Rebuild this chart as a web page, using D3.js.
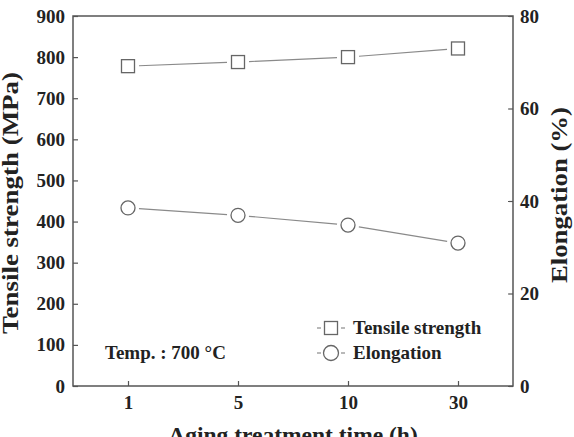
<!DOCTYPE html>
<html>
<head>
<meta charset="utf-8">
<script src="https://cdn.jsdelivr.net/npm/d3@7"></script>
<style>
  body { margin: 0; background: #fff; }
  text { font-family: "Liberation Serif", "Times New Roman", serif; font-weight: bold; fill: #222; }
</style>
</head>
<body>
<div id="chart"></div>
<script>
// Values
var times = ["1", "5", "10", "30"];
var tensile = [778, 788, 800, 821];
var elongation = [38.5, 36.9, 34.8, 30.9];
var leftTicks = [0, 100, 200, 300, 400, 500, 600, 700, 800, 900];
var rightTicks = [0, 20, 40, 60, 80];

var W = 574, H = 437;
var box = {left: 73, right: 513, top: 16, bottom: 386};
var axisColor = "#555", lineColor = "#8a8a8a", markColor = "#666";

var svg = d3.select("#chart").append("svg")
    .attr("width", W)
    .attr("height", H);

var x = d3.scalePoint().domain(times).range([box.left, box.right]).padding(0.5);
var yL = d3.scaleLinear().domain([0, 900]).range([box.bottom, box.top]);
var yR = d3.scaleLinear().domain([0, 80]).range([box.bottom, box.top]);

// frame
svg.append("rect")
    .attr("x", box.left).attr("y", box.top)
    .attr("width", box.right - box.left).attr("height", box.bottom - box.top)
    .attr("fill", "none").attr("stroke", axisColor).attr("stroke-width", 1.5);

// axes, ticks point inward
function styleAxis(g) {
    g.select(".domain").remove();
    g.selectAll(".tick line").attr("stroke", axisColor).attr("stroke-width", 1.2);
    g.selectAll(".tick text").attr("font-size", "19px").attr("fill", "#222")
	.attr("font-family", null);
}

svg.append("g")
    .attr("transform", "translate(" + box.left + ",0)")
    .call(d3.axisLeft(yL).tickValues(leftTicks).tickSizeInner(-5).tickSizeOuter(0).tickPadding(8))
    .call(styleAxis);

svg.append("g")
    .attr("transform", "translate(" + box.right + ",0)")
    .call(d3.axisRight(yR).tickValues(rightTicks).tickSizeInner(-5).tickSizeOuter(0).tickPadding(7))
    .call(styleAxis);

svg.append("g")
    .attr("transform", "translate(0," + box.bottom + ")")
    .call(d3.axisBottom(x).tickSizeInner(-5).tickSizeOuter(0).tickPadding(10))
    .call(styleAxis);

// axis titles
svg.append("text")
    .attr("transform", "translate(18,203) rotate(-90)")
    .attr("text-anchor", "middle")
    .attr("font-size", "23px")
    .attr("textLength", 262).attr("lengthAdjust", "spacingAndGlyphs")
    .text("Tensile strength (MPa)");

svg.append("text")
    .attr("transform", "translate(567,195) rotate(-90)")
    .attr("text-anchor", "middle")
    .attr("font-size", "23px")
    .attr("textLength", 176).attr("lengthAdjust", "spacingAndGlyphs")
    .text("Elongation (%)");

svg.append("text")
    .attr("x", (box.left + box.right) / 2)
    .attr("y", 443)
    .attr("text-anchor", "middle")
    .attr("font-size", "23.5px")
    .text("Aging treatment time (h)");

// series: lines stop short of the markers
function segments(vals, y, gap) {
    var segs = [];
    for (var i = 0; i < vals.length - 1; i++) {
	var x1 = x(times[i]), y1 = y(vals[i]), x2 = x(times[i+1]), y2 = y(vals[i+1]);
	var len = Math.hypot(x2 - x1, y2 - y1), ux = (x2 - x1) / len, uy = (y2 - y1) / len;
	segs.push({x1: x1 + ux*gap, y1: y1 + uy*gap, x2: x2 - ux*gap, y2: y2 - uy*gap});
    }
    return segs;
}

function drawSegs(segs) {
    svg.append("g").selectAll("line")
	.data(segs)
	.enter().append("line")
	.attr("x1", function(d){return d.x1;})
	.attr("y1", function(d){return d.y1;})
	.attr("x2", function(d){return d.x2;})
	.attr("y2", function(d){return d.y2;})
	.attr("stroke", lineColor)
	.attr("stroke-width", 1.2);
}

var sq = 13, cr = 7;
drawSegs(segments(tensile, yL, 11));
drawSegs(segments(elongation, yR, 11));

svg.append("g").selectAll("rect")
    .data(tensile)
    .enter().append("rect")
    .attr("x", function(d, i){return x(times[i]) - sq/2;})
    .attr("y", function(d){return yL(d) - sq/2;})
    .attr("width", sq).attr("height", sq)
    .attr("fill", "#fff").attr("stroke", markColor).attr("stroke-width", 1.3);

svg.append("g").selectAll("circle")
    .data(elongation)
    .enter().append("circle")
    .attr("cx", function(d, i){return x(times[i]);})
    .attr("cy", function(d){return yR(d);})
    .attr("r", cr)
    .attr("fill", "#fff").attr("stroke", markColor).attr("stroke-width", 1.3);

// legend
var legend = [{name: "Tensile strength", shape: "square", y: 328},
	      {name: "Elongation", shape: "circle", y: 353}];
var lg = svg.append("g").selectAll("g")
    .data(legend)
    .enter().append("g")
    .attr("transform", function(d){return "translate(331," + d.y + ")";});

lg.append("line").attr("x1", -14).attr("x2", -10).attr("stroke", lineColor).attr("stroke-width", 1.2);
lg.append("line").attr("x1", 10).attr("x2", 14).attr("stroke", lineColor).attr("stroke-width", 1.2);
lg.filter(function(d){return d.shape == "square";}).append("rect")
    .attr("x", -6.5).attr("y", -6.5).attr("width", 13).attr("height", 13)
    .attr("fill", "#fff").attr("stroke", markColor).attr("stroke-width", 1.3);
lg.filter(function(d){return d.shape == "circle";}).append("circle")
    .attr("r", 7.5)
    .attr("fill", "#fff").attr("stroke", markColor).attr("stroke-width", 1.3);
lg.append("text")
    .attr("x", 22).attr("y", 6)
    .attr("font-size", "19px")
    .text(function(d){return d.name;});

// annotation
svg.append("text")
    .attr("x", 105).attr("y", 359)
    .attr("font-size", "19px")
    .text("Temp. : 700 °C");
</script>
</body>
</html>
